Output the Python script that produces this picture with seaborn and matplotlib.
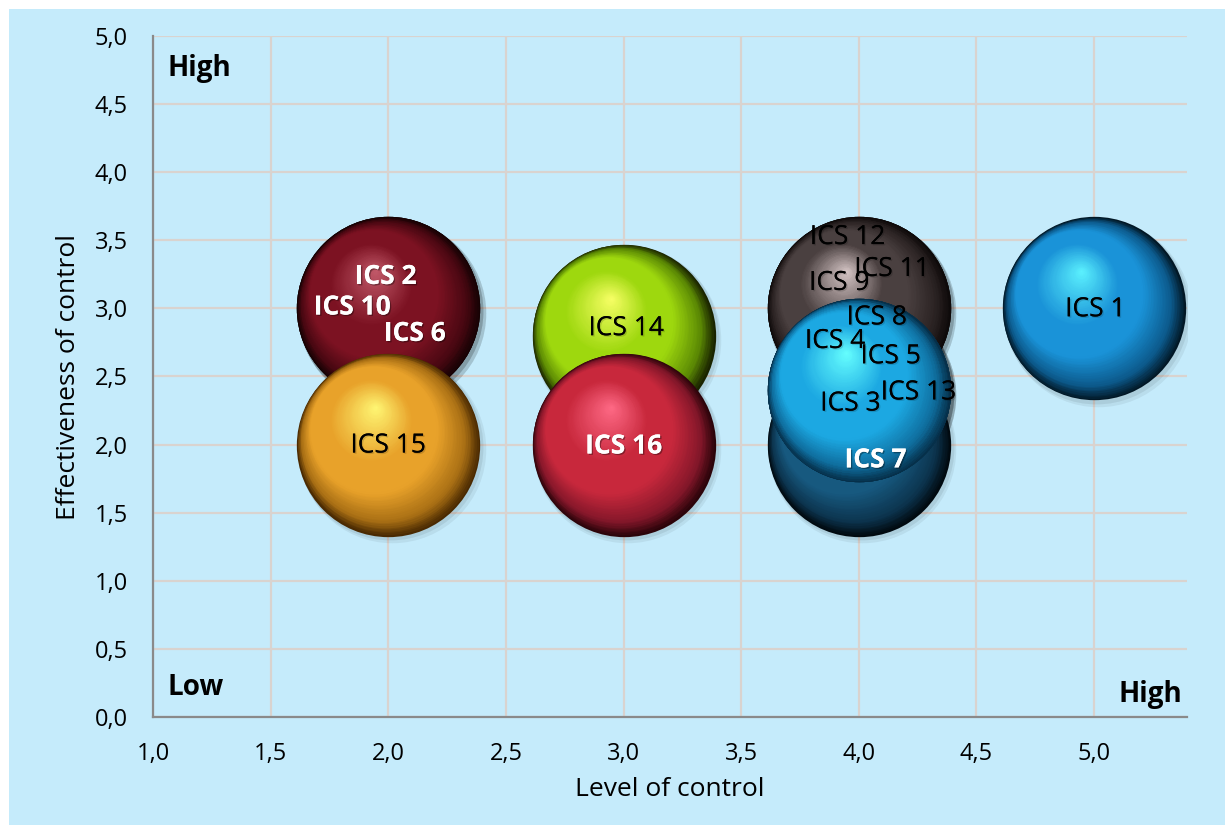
import numpy as np
import pandas as pd
import seaborn as sns
import matplotlib
matplotlib.use("Agg")
import matplotlib.pyplot as plt
from matplotlib import transforms, patheffects
from matplotlib.colors import LinearSegmentedColormap
from matplotlib.patches import Rectangle
from matplotlib.ticker import FuncFormatter

# ---- data -------------------------------------------------------------
labels = ["ICS 1", "ICS 2", "ICS 3", "ICS 4", "ICS 5", "ICS 6", "ICS 7", "ICS 8",
          "ICS 9", "ICS 10", "ICS 11", "ICS 12", "ICS 13", "ICS 14", "ICS 15", "ICS 16"]
level_of_control = [5.0, 2.0, 4.0, 4.0, 4.0, 2.0, 4.0, 4.0,
                    4.0, 2.0, 4.0, 4.0, 4.0, 3.0, 2.0, 3.0]
effectiveness = [3.0, 3.0, 2.4, 2.4, 2.4, 3.0, 2.0, 2.4,
                 3.0, 3.0, 3.0, 3.0, 2.4, 2.8, 2.0, 2.0]
group = ["blue", "maroon", "sky", "sky", "sky", "maroon", "navy", "sky",
         "grey", "maroon", "grey", "grey", "sky", "lime", "amber", "crimson"]

x_ticks = [1.0, 1.5, 2.0, 2.5, 3.0, 3.5, 4.0, 4.5, 5.0]
y_ticks = [0.0, 0.5, 1.0, 1.5, 2.0, 2.5, 3.0, 3.5, 4.0, 4.5, 5.0]

# ---- styling ----------------------------------------------------------
BG = "#C5EBFB"
draw_order = ["maroon", "lime", "grey", "navy", "sky", "amber", "crimson", "blue"]
# (rim, shade, body, highlight) for each sphere colour
shades = {
    "blue":    ("#021826", "#0C5A8C", "#1A93D8", "#5CF2FF"),
    "maroon":  ("#160204", "#4A0812", "#7C1222", "#C25A6A"),
    "sky":     ("#06304A", "#0F6E9E", "#1CA8E2", "#66FFFF"),
    "navy":    ("#010A10", "#0C344E", "#17597F", "#2E8CBC"),
    "grey":    ("#0E0A0A", "#2A2222", "#4A4040", "#D6C6C6"),
    "lime":    ("#1A2400", "#5C8A04", "#9ED80E", "#F8FF66"),
    "amber":   ("#4A2A02", "#A86E14", "#E8A22A", "#FFF774"),
    "crimson": ("#2C040A", "#84172A", "#C8283C", "#FF6A86"),
}
white_labels = {"ICS 2", "ICS 6", "ICS 10", "ICS 16", "ICS 7"}
# label nudges from the bubble centre, in points
label_nudge = {
    "ICS 1": (1, -1), "ICS 2": (-2, 23), "ICS 10": (-26, 1), "ICS 6": (19, -18),
    "ICS 15": (0, -1), "ICS 14": (2, 5), "ICS 16": (0, -1),
    "ICS 12": (-8, 51), "ICS 11": (24, 28), "ICS 9": (-14, 18),
    "ICS 8": (13, 52), "ICS 4": (-17, 35), "ICS 5": (23, 24),
    "ICS 13": (43, -2), "ICS 3": (-6, -10), "ICS 7": (12, -11),
}

sns.set_theme(style="white")
plt.rcParams["font.family"] = ["Open Sans", "DejaVu Sans"]

df = pd.DataFrame({"label": labels, "x": level_of_control,
                   "y": effectiveness, "group": group})

fig = plt.figure(figsize=(12.25, 8.25), dpi=100)
fig.patch.set_facecolor("white")
fig.patches.append(Rectangle((9 / 1225, 0), 1, 1 - 9 / 825,
                             transform=fig.transFigure, facecolor=BG,
                             edgecolor="none", zorder=-10))
ax = fig.add_axes([153 / 1225, 1 - 717 / 825, 1034 / 1225, 681 / 825])
ax.set_facecolor(BG)
ax.set_xlim(1.0, 5.395)
ax.set_ylim(0.0, 5.0)

# bubble geometry in points
R = 66.0
diam_area = lambda r: (2 * r) ** 2
n_layers = 80


def light_offset(t):
    """Centre shift of shading layer t: first toward the lit upper-left,
    then up to the specular spot."""
    if t <= 0.4:
        f = t / 0.4
        return -14.0 * f, 14.0 * f
    f = (t - 0.4) / 0.6
    return -14.0 + 5.0 * f, 14.0 + 13.0 * f


# soft drop shadow under every sphere
for off, a in ((2.5, 0.06), (1.5, 0.07)):
    shadow_tr = transforms.offset_copy(ax.transData, fig=fig, x=off, y=-off * 1.3,
                                       units="points")
    ax.scatter(df["x"], df["y"], s=diam_area(R + off * 0.6), color="#000000",
               alpha=a, linewidths=0, transform=shadow_tr, zorder=2)

z = 3
for g in draw_order:
    sub = df[df["group"] == g]
    rim, shade, body, hi = shades[g]
    cmap = LinearSegmentedColormap.from_list(
        g, [(0.0, rim), (0.10, shade), (0.30, body), (0.55, body), (1.0, hi)])
    # outer sphere body
    sns.scatterplot(data=sub, x="x", y="y", color=rim, s=diam_area(R),
                    linewidth=0, legend=False, ax=ax, zorder=z)
    for k in range(1, n_layers):
        t = k / n_layers
        ox, oy = light_offset(t)
        tr = transforms.offset_copy(ax.transData, fig=fig, x=ox, y=oy, units="points")
        ax.scatter(sub["x"], sub["y"], s=diam_area(R * (1 - t)),
                   color=cmap(t), linewidths=0, transform=tr, zorder=z)
    z += 1

# data labels
for _, row in df.iterrows():
    name = row["label"]
    dx, dy = label_nudge[name]
    is_white = name in white_labels
    txt = ax.annotate(name, (row["x"], row["y"]), xytext=(dx, dy),
                      textcoords="offset points", ha="center", va="center",
                      fontsize=19, color="white" if is_white else "black",
                      fontweight="bold" if is_white else "normal", zorder=50)
    txt.set_path_effects([patheffects.withSimplePatchShadow(
        offset=(1, -1), shadow_rgbFace="black", alpha=0.35 if is_white else 0.15),
        patheffects.Normal()])

# quadrant captions
cap_kw = dict(transform=ax.transAxes, fontsize=20, fontweight="bold",
              color="black", va="baseline", zorder=60)
ax.text(0.0145, 0.941, "High", ha="left", **cap_kw)
ax.text(0.0145, 0.032, "Low", ha="left", **cap_kw)
ax.text(0.995, 0.022, "High", ha="right", **cap_kw)

# axes, grid, ticks
ax.set_xticks(x_ticks)
ax.set_yticks(y_ticks)
fmt = FuncFormatter(lambda v, _: f"{v:.1f}".replace(".", ","))
ax.xaxis.set_major_formatter(fmt)
ax.yaxis.set_major_formatter(fmt)
ax.grid(True, color="#D9D3CF", linewidth=1.6, zorder=0)
ax.set_axisbelow(True)
for side in ("top", "right"):
    ax.spines[side].set_visible(False)
for side in ("left", "bottom"):
    ax.spines[side].set_color("#8A8A8A")
    ax.spines[side].set_linewidth(1.6)
ax.tick_params(axis="both", length=0, labelsize=17, colors="black")
ax.tick_params(axis="y", pad=18)
ax.tick_params(axis="x", pad=18)
ax.set_xlabel("Level of control", fontsize=19, labelpad=8, color="black")
ax.set_ylabel("Effectiveness of control", fontsize=19, labelpad=10, color="black")

fig.savefig("out.png", dpi=100, facecolor=fig.get_facecolor())
